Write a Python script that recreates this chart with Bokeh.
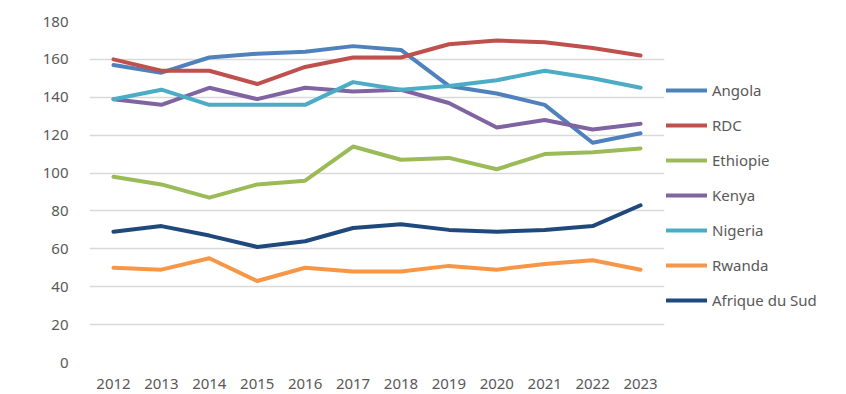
from bokeh.plotting import figure
from bokeh.models import Legend, LegendItem, Range1d, FixedTicker
from bokeh.embed import file_html
from bokeh.resources import INLINE

years = ["2012", "2013", "2014", "2015", "2016", "2017", "2018", "2019", "2020", "2021", "2022", "2023"]
angola = [157, 153, 161, 163, 164, 167, 165, 146, 142, 136, 116, 121]
rdc = [160, 154, 154, 147, 156, 161, 161, 168, 170, 169, 166, 162]
ethiopie = [98, 94, 87, 94, 96, 114, 107, 108, 102, 110, 111, 113]
kenya = [139, 136, 145, 139, 145, 143, 144, 137, 124, 128, 123, 126]
nigeria = [139, 144, 136, 136, 136, 148, 144, 146, 149, 154, 150, 145]
rwanda = [50, 49, 55, 43, 50, 48, 48, 51, 49, 52, 54, 49]
afrique_du_sud = [69, 72, 67, 61, 64, 71, 73, 70, 69, 70, 72, 83]

series = [
    ("Angola", angola, "#4F81BD"),
    ("RDC", rdc, "#C0504D"),
    ("Ethiopie", ethiopie, "#9BBB59"),
    ("Kenya", kenya, "#8064A2"),
    ("Nigeria", nigeria, "#4BACC6"),
    ("Rwanda", rwanda, "#F79646"),
    ("Afrique du Sud", afrique_du_sud, "#1F497D"),
]

FONT = "Noto Sans"
TXT = "#595959"

p = figure(x_range=years, y_range=Range1d(0, 180), frame_width=575, frame_height=341,
           output_backend="svg", toolbar_location=None,
           min_border_left=89, min_border_right=170, min_border_top=21, min_border_bottom=30)
p.x_range.range_padding = 0
p.outline_line_color = None

items = []
for name, vals, col in series:
    r = p.line(years, vals, line_color=col, line_width=4, line_join="round", line_cap="round")
    items.append(LegendItem(label=name, renderers=[r]))

p.xgrid.grid_line_color = None
p.ygrid.grid_line_color = "#D9D9D9"
p.ygrid.grid_line_width = 1.5
p.yaxis.ticker = FixedTicker(ticks=list(range(0, 181, 20)))

for ax in (p.xaxis, p.yaxis):
    ax.axis_line_color = None
    ax.major_tick_line_color = None
    ax.minor_tick_line_color = None
    ax.major_label_text_font = FONT
    ax.major_label_text_font_size = "15px"
    ax.major_label_text_color = TXT
p.yaxis.major_label_standoff = 15
p.xaxis.major_label_standoff = 10

legend = Legend(items=items, location="top_left", orientation="vertical",
                title=" ", title_text_font_size="15px", title_standoff=40,
                label_text_font=FONT, label_text_font_size="15px", label_text_color=TXT,
                glyph_width=41, glyph_height=20, label_height=20, label_standoff=5,
                spacing=15, padding=0, margin=2,
                border_line_color=None, background_fill_alpha=0)
p.add_layout(legend, "right")

open("out.html", "w").write(file_html(p, INLINE))
